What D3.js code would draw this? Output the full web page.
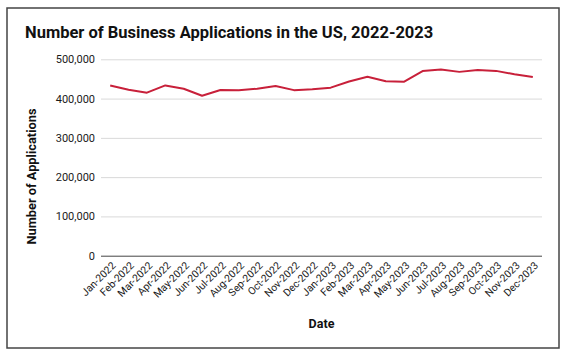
<!DOCTYPE html>
<html><head><meta charset="utf-8">
<script src="https://cdn.jsdelivr.net/npm/d3@7"></script>
<style>body{margin:0;background:#fff}svg{display:block;font-family:Roboto,"Liberation Sans",sans-serif}</style>
</head><body>
<svg id="c" width="569" height="356"></svg>
<script>
const months = ["Jan-2022","Feb-2022","Mar-2022","Apr-2022","May-2022","Jun-2022","Jul-2022","Aug-2022","Sep-2022","Oct-2022","Nov-2022","Dec-2022",
"Jan-2023","Feb-2023","Mar-2023","Apr-2023","May-2023","Jun-2023","Jul-2023","Aug-2023","Sep-2023","Oct-2023","Nov-2023","Dec-2023"];
const applications = [433500,422500,415000,433500,425000,407300,422000,421500,425000,432000,421500,424000,
427800,443500,455500,444000,443000,470000,474000,468000,473000,470500,462000,455000];
const yTicks = [0,100000,200000,300000,400000,500000];

const svg = d3.select("#c");
const L=101, R=542, T=59.3, B=255.7;
svg.append("rect").attr("x",7).attr("y",8).attr("width",552).attr("height",340)
  .attr("fill","#fff").attr("stroke","#444").attr("stroke-width",1.5);

const x = d3.scalePoint().domain(months).range([L,R]).padding(0.5);
const y = d3.scaleLinear().domain([0,500000]).range([B,T]);

const gy = svg.append("g").attr("transform",`translate(${L},0)`)
  .call(d3.axisLeft(y).tickValues(yTicks).tickSize(-(R-L)).tickPadding(6).tickFormat(d3.format(",")));
gy.select(".domain").remove();
gy.selectAll(".tick line").attr("stroke",d=>d===0?"#444":"#d9d9d9").attr("stroke-width",1);
gy.selectAll(".tick text").attr("font-size",11).attr("fill","#1a1a1a").attr("font-family","Roboto");

const gx = svg.append("g").attr("transform",`translate(0,${B})`)
  .call(d3.axisBottom(x).tickSize(0).tickPadding(0));
gx.select(".domain").remove();
gx.selectAll(".tick text").attr("font-size",10.3).attr("fill","#1a1a1a").attr("font-family","Roboto")
  .attr("text-anchor","end").attr("dy","0.35em")
  .attr("transform","translate(3,8) rotate(-45)");

svg.append("path").datum(applications)
  .attr("fill","none").attr("stroke","#c8203a").attr("stroke-width",2).attr("stroke-linejoin","round")
  .attr("d", d3.line().x((d,i)=>x(months[i])).y(d=>y(d)));

svg.append("text").attr("x",25).attr("y",38).attr("font-size",16.5).attr("font-weight","bold")
  .attr("fill","#111").text("Number of Business Applications in the US, 2022-2023");
svg.append("text").attr("x",(L+R)/2).attr("y",328).attr("text-anchor","middle")
  .attr("font-size",12.5).attr("font-weight","bold").attr("fill","#111").text("Date");
svg.append("text").attr("transform",`translate(36,${(108+245)/2}) rotate(-90)`).attr("text-anchor","middle")
  .attr("font-size",12.8).attr("font-weight","bold").attr("fill","#111").text("Number of Applications");
</script>
</body></html>
